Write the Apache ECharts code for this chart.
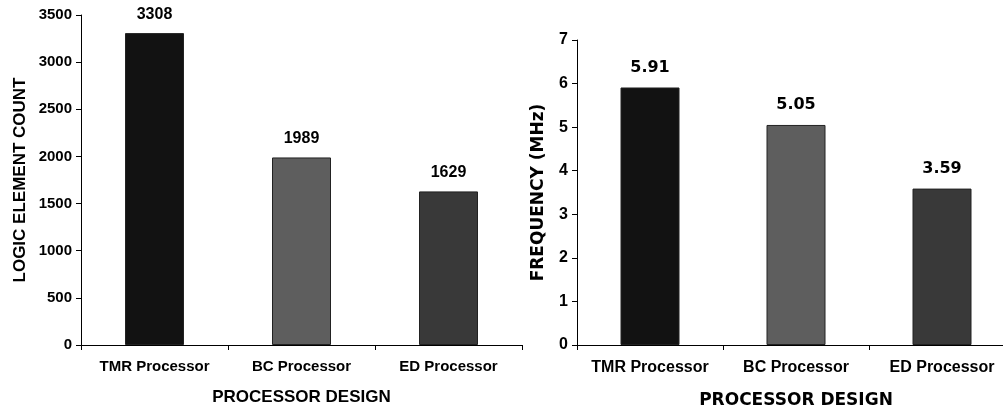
<!DOCTYPE html>
<html>
<head>
<meta charset="utf-8">
<script src="https://cdn.jsdelivr.net/npm/echarts@6/dist/echarts.min.js"></script>
<style>
html,body{margin:0;padding:0;background:#fff;}
#c{width:1003px;height:412px;}
</style>
</head>
<body>
<div id="c"></div>
<script>
const categories = ["TMR Processor", "BC Processor", "ED Processor"];
const logicCounts = [3308, 1989, 1629];
const frequencies = [5.91, 5.05, 3.59];
const frequencyLabels = ["5.91", "5.05", "3.59"];
const barColors = ["#121212", "#5e5e5e", "#393939"];

const chart = echarts.init(document.getElementById('c'));
const fontA = '"Liberation Sans", Arial, sans-serif';
const fontD = '"DejaVu Sans", Verdana, sans-serif';

const option = {
  animation: false,
  backgroundColor: '#fff',
  grid: [
    {left: 81, right: 481, top: 15, bottom: 67, outerBoundsMode: 'none', containLabel: false},
    {left: 577, right: -12, top: 40, bottom: 67, outerBoundsMode: 'none', containLabel: false}
  ],
  xAxis: [
    {
      type: 'category', gridIndex: 0, data: categories,
      axisLine: {lineStyle: {color: '#000', width: 1}},
      axisTick: {show: true, length: 5, lineStyle: {color: '#000'}},
      axisLabel: {color: '#000', fontFamily: fontA, fontWeight: 'bold', fontSize: 15, margin: 14, interval: 0, hideOverlap: false},
      name: 'PROCESSOR DESIGN', nameLocation: 'middle', nameGap: 44,
      nameTextStyle: {color: '#000', fontFamily: fontA, fontWeight: 'bold', fontSize: 17}
    },
    {
      type: 'category', gridIndex: 1, data: categories,
      axisLine: {lineStyle: {color: '#000', width: 1}},
      axisTick: {show: true, length: 5, lineStyle: {color: '#000'}},
      axisLabel: {color: '#000', fontFamily: fontA, fontWeight: 'bold', fontSize: 16, margin: 15, interval: 0, hideOverlap: false},
      name: 'PROCESSOR DESIGN', nameLocation: 'middle', nameGap: 47,
      nameTextStyle: {color: '#000', fontFamily: fontD, fontWeight: 'bold', fontSize: 17}
    }
  ],
  yAxis: [
    {
      type: 'value', gridIndex: 0, min: 0, max: 3500, interval: 500,
      axisLine: {show: true, lineStyle: {color: '#000'}},
      axisTick: {show: true, length: 5, lineStyle: {color: '#000'}},
      splitLine: {show: false},
      axisLabel: {color: '#000', fontFamily: fontA, fontWeight: 'bold', fontSize: 15, margin: 9, formatter: v => String(v)},
      name: 'LOGIC ELEMENT COUNT', nameLocation: 'middle', nameGap: 52, nameRotate: 90,
      nameTextStyle: {color: '#000', fontFamily: fontA, fontWeight: 'bold', fontSize: 17}
    },
    {
      type: 'value', gridIndex: 1, min: 0, max: 7, interval: 1,
      axisLine: {show: true, lineStyle: {color: '#000'}},
      axisTick: {show: true, length: 5, lineStyle: {color: '#000'}},
      splitLine: {show: false},
      axisLabel: {color: '#000', fontFamily: fontA, fontWeight: 'bold', fontSize: 16, margin: 9, formatter: v => String(v)},
      name: 'FREQUENCY (MHz)', nameLocation: 'middle', nameGap: 30, nameRotate: 90,
      nameTextStyle: {color: '#000', fontFamily: fontD, fontWeight: 'bold', fontSize: 17}
    }
  ],
  series: [
    {
      type: 'bar', xAxisIndex: 0, yAxisIndex: 0, barWidth: 59,
      data: logicCounts.map((v, i) => ({value: v, itemStyle: {color: barColors[i]}})),
      itemStyle: {borderColor: '#222', borderWidth: 1},
      label: {show: true, position: 'top', distance: 11, color: '#000', fontFamily: fontA, fontWeight: 'bold', fontSize: 16}
    },
    {
      type: 'bar', xAxisIndex: 1, yAxisIndex: 1, barWidth: 59,
      data: frequencies.map((v, i) => ({value: v, itemStyle: {color: barColors[i]}})),
      itemStyle: {borderColor: '#222', borderWidth: 1},
      label: {show: true, position: 'top', distance: 12, color: '#000', fontFamily: fontD, fontWeight: 'bold', fontSize: 16,
        formatter: p => frequencyLabels[p.dataIndex]}
    }
  ]
};
chart.setOption(option);
</script>
</body>
</html>
